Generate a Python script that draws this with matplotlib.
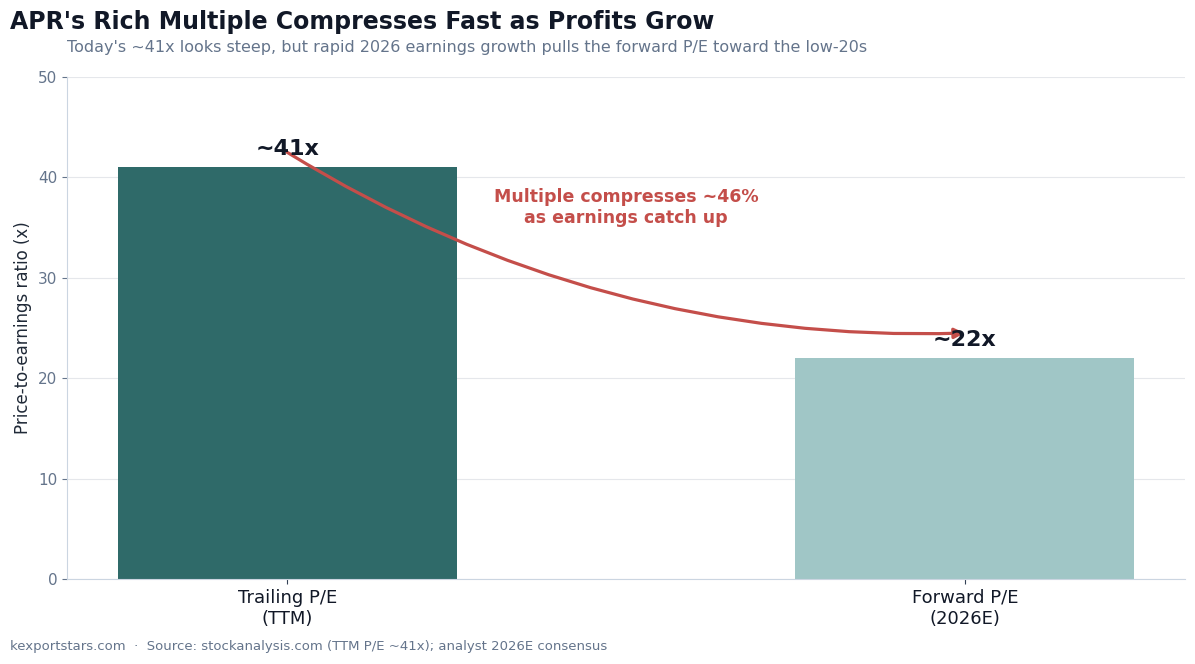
import matplotlib
matplotlib.use("Agg")
import matplotlib.pyplot as plt

# data
categories = ["Trailing P/E\n(TTM)", "Forward P/E\n(2026E)"]
pe_values = [41, 22]
value_labels = ["~41x", "~22x"]
bar_colors = ["#2f6a69", "#a0c6c6"]

arrow_start = (0, 42.5)
arrow_end = (1, 24.5)
note_pos = (0.5, 37.0)

fig = plt.figure(figsize=(11.95, 6.64), dpi=100)
ax = fig.add_axes([0.0561, 0.128, 0.9355, 0.756])

x = range(len(categories))
ax.bar(x, pe_values, width=0.5, color=bar_colors, zorder=2)

ax.set_ylim(0, 50)
ax.set_xticks(list(x))
ax.set_xticklabels(categories, fontsize=13)
ax.set_ylabel("Price-to-earnings ratio (x)", fontsize=12, color="#1f2937")
ax.tick_params(axis="y", labelsize=11, colors="#64748b")
ax.tick_params(axis="x", color="#334155", labelcolor="#111827")
ax.yaxis.grid(True, color="#e5e7eb", linewidth=0.8, zorder=0)
ax.set_axisbelow(True)
for s in ["top", "right"]:
    ax.spines[s].set_visible(False)
for s in ["left", "bottom"]:
    ax.spines[s].set_color("#cbd5e1")

# value labels on top of bars
for xi, v, lab in zip(x, pe_values, value_labels):
    ax.annotate(lab, (xi, v), xytext=(0, 6), textcoords="offset points",
                ha="center", va="bottom", fontsize=16, fontweight="bold",
                color="#111827", zorder=4)

# curved arrow
ax.annotate("", xy=arrow_end, xytext=arrow_start,
            arrowprops=dict(arrowstyle="-|>", color="#c44e4a", lw=2.3,
                            mutation_scale=15, shrinkA=0, shrinkB=0,
                            connectionstyle="arc3,rad=0.15"), zorder=3)
ax.text(note_pos[0], note_pos[1], "Multiple compresses ~46%\nas earnings catch up",
        ha="center", va="center", fontsize=12.5, fontweight="bold",
        color="#c44e4a", linespacing=1.2)

fig.text(0.0084, 0.967, "APR's Rich Multiple Compresses Fast as Profits Grow",
         fontsize=17, fontweight="bold", color="#111827", ha="left", va="center")
fig.text(0.0561, 0.929, "Today's ~41x looks steep, but rapid 2026 earnings growth pulls the forward P/E toward the low-20s",
         fontsize=11.5, color="#64748b", ha="left", va="center")
fig.text(0.0084, 0.026, "kexportstars.com  \u00b7  Source: stockanalysis.com (TTM P/E ~41x); analyst 2026E consensus",
         fontsize=9.5, color="#64748b", ha="left", va="center")

fig.savefig("out.png", dpi=100)
